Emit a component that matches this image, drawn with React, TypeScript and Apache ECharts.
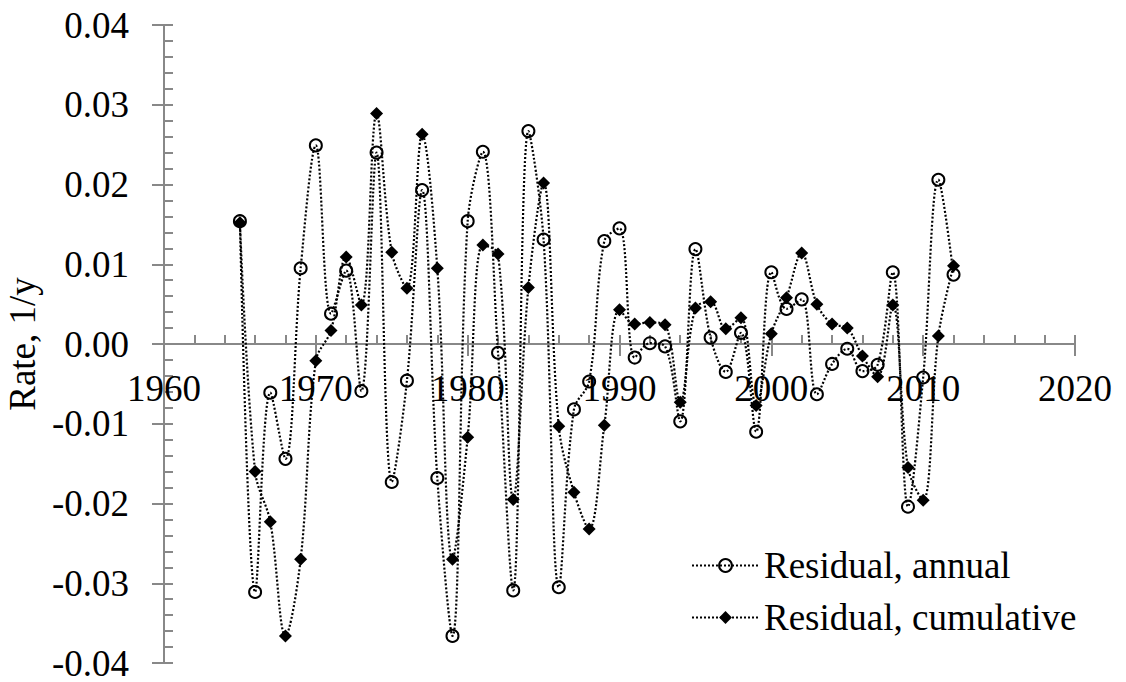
import React, { useEffect, useRef } from "react";
import * as echarts from "echarts";

const years: number[] = [
  1965, 1966, 1967, 1968, 1969, 1970, 1971, 1972, 1973, 1974, 1975, 1976,
  1977, 1978, 1979, 1980, 1981, 1982, 1983, 1984, 1985, 1986, 1987, 1988,
  1989, 1990, 1991, 1992, 1993, 1994, 1995, 1996, 1997, 1998, 1999, 2000,
  2001, 2002, 2003, 2004, 2005, 2006, 2007, 2008, 2009, 2010, 2011, 2012,
];

const residualAnnual: number[] = [
  0.0154, -0.0311, -0.0061, -0.0144, 0.0095, 0.0249, 0.0038, 0.0092, -0.0059,
  0.024, -0.0173, -0.0046, 0.0193, -0.0168, -0.0366, 0.0154, 0.0241, -0.0011,
  -0.0309, 0.0267, 0.0131, -0.0305, -0.0082, -0.0047, 0.0129, 0.0145, -0.0017,
  0.0001, -0.0003, -0.0097, 0.0119, 0.0008, -0.0035, 0.0014, -0.011, 0.009,
  0.0044, 0.0056, -0.0063, -0.0025, -0.0006, -0.0034, -0.0026, 0.009, -0.0204,
  -0.0042, 0.0206, 0.0087,
];

const residualCumulative: number[] = [
  0.0152, -0.016, -0.0223, -0.0366, -0.027, -0.0021, 0.0017, 0.0109, 0.0049,
  0.0289, 0.0115, 0.007, 0.0263, 0.0095, -0.027, -0.0117, 0.0124, 0.0113,
  -0.0195, 0.0071, 0.0202, -0.0103, -0.0186, -0.0232, -0.0102, 0.0043, 0.0025,
  0.0027, 0.0024, -0.0073, 0.0045, 0.0053, 0.0019, 0.0033, -0.0077, 0.0013,
  0.0058, 0.0114, 0.005, 0.0025, 0.002, -0.0015, -0.0041, 0.0049, -0.0155,
  -0.0196, 0.001, 0.0098,
];

const seriesNames: string[] = ["Residual, annual", "Residual, cumulative"];
const yAxisName = "Rate, 1/y";

const X_MIN = 1960;
const X_MAX = 2020;
const X_STEP = 10;
const Y_MIN = -0.04;
const Y_MAX = 0.04;
const Y_STEP = 0.01;

const FONT = "Liberation Serif";
const AXIS_COLOR = "#888888";
const W = 1126;
const H = 682;
const GRID = { left: 164, right: 51, top: 25, bottom: 19 };

export default function App() {
  const ref = useRef<HTMLDivElement>(null);

  useEffect(() => {
    if (!ref.current) return;
    const chart = echarts.init(ref.current, null, { renderer: "svg" });

    const annualData = years.map((y, i) => [y, residualAnnual[i]]);
    const cumData = years.map((y, i) => [y, residualCumulative[i]]);

    // move the x axis (line, ticks, labels) up to the y = 0 level
    const plotH = H - GRID.top - GRID.bottom;
    const zeroOffset = -plotH * ((0 - Y_MIN) / (Y_MAX - Y_MIN));

    const xBase = {
      type: "value" as const,
      min: X_MIN,
      max: X_MAX,
      interval: X_STEP,
      position: "bottom" as const,
      offset: zeroOffset,
      splitLine: { show: false },
    };
    const yBase = {
      type: "value" as const,
      min: Y_MIN,
      max: Y_MAX,
      interval: Y_STEP,
      position: "left" as const,
      splitLine: { show: false },
    };

    chart.setOption({
      animation: false,
      backgroundColor: "#ffffff",
      grid: { ...GRID, containLabel: false, outerBoundsMode: "none" },
      xAxis: [
        {
          ...xBase,
          axisLine: {
            show: true,
            onZero: false,
            lineStyle: { color: AXIS_COLOR, width: 2 },
          },
          axisTick: {
            show: true,
            inside: true,
            length: 9,
            lineStyle: { color: AXIS_COLOR, width: 2 },
          },
          minorTick: {
            show: true,
            splitNumber: 5,
            length: 9,
            lineStyle: { color: AXIS_COLOR, width: 2 },
          },
          axisLabel: {
            show: true,
            margin: 26,
            color: "#000",
            fontFamily: FONT,
            fontSize: 37,
            formatter: (v: number) => String(v),
          },
        },
        {
          ...xBase,
          axisLine: {
            show: true,
            onZero: false,
            lineStyle: { color: AXIS_COLOR, width: 2 },
          },
          axisTick: {
            show: true,
            inside: false,
            length: 12,
            lineStyle: { color: AXIS_COLOR, width: 2 },
          },
          minorTick: { show: false },
          axisLabel: { show: false },
        },
      ],
      yAxis: [
        {
          ...yBase,
          axisLine: {
            show: true,
            onZero: false,
            lineStyle: { color: AXIS_COLOR, width: 2 },
          },
          axisTick: {
            show: true,
            inside: true,
            length: 9,
            lineStyle: { color: AXIS_COLOR, width: 2 },
          },
          minorTick: {
            show: true,
            splitNumber: 5,
            length: 9,
            lineStyle: { color: AXIS_COLOR, width: 2 },
          },
          axisLabel: {
            show: true,
            margin: 35,
            color: "#000",
            fontFamily: FONT,
            fontSize: 37,
            formatter: (v: number) => v.toFixed(2),
          },
          name: yAxisName,
          nameLocation: "middle",
          nameGap: 123,
          nameRotate: 90,
          nameTextStyle: { color: "#000", fontFamily: FONT, fontSize: 37 },
        },
        {
          ...yBase,
          axisLine: {
            show: true,
            onZero: false,
            lineStyle: { color: AXIS_COLOR, width: 2 },
          },
          axisTick: {
            show: true,
            inside: false,
            length: 12,
            lineStyle: { color: AXIS_COLOR, width: 2 },
          },
          minorTick: { show: false },
          axisLabel: { show: false },
        },
      ],
      legend: {
        orient: "vertical",
        left: 686,
        top: 542,
        itemWidth: 67,
        itemHeight: 16,
        itemGap: 15,
        textStyle: { color: "#000", fontFamily: FONT, fontSize: 37 },
        data: seriesNames,
      },
      series: [
        {
          name: seriesNames[0],
          type: "line",
          xAxisIndex: 0,
          yAxisIndex: 0,
          data: annualData,
          smooth: 0.35,
          symbol: "circle",
          symbolSize: 12,
          showSymbol: true,
          lineStyle: { color: "#000", width: 2.2, type: [2, 2] },
          itemStyle: { color: "rgba(0,0,0,0)", borderColor: "#000", borderWidth: 2 },
          z: 2,
        },
        {
          name: seriesNames[1],
          type: "line",
          xAxisIndex: 0,
          yAxisIndex: 0,
          data: cumData,
          smooth: 0.35,
          symbol: "diamond",
          symbolSize: 13,
          showSymbol: true,
          lineStyle: { color: "#000", width: 2.2, type: [2, 2] },
          itemStyle: { color: "#000", borderColor: "#000", borderWidth: 0 },
          z: 3,
        },
      ],
    });

    return () => {
      chart.dispose();
    };
  }, []);

  return (
    <div
      ref={ref}
      style={{ position: "fixed", left: 0, top: 0, width: W, height: H }}
    />
  );
}
